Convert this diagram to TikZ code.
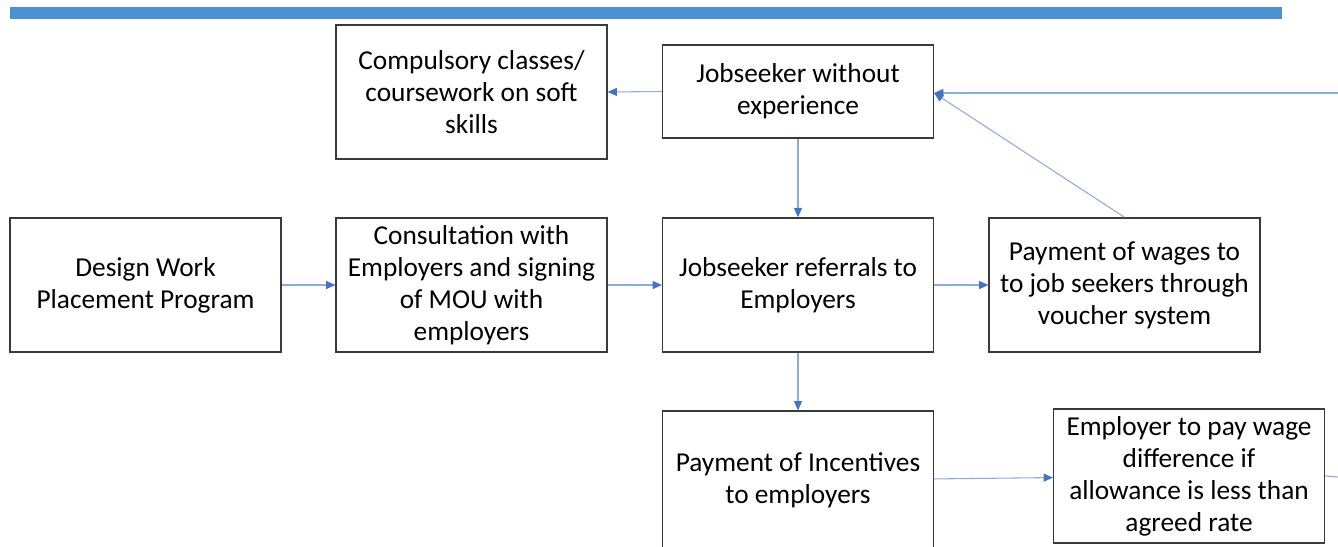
\documentclass[tikz,border=0pt]{standalone}
\usepackage{fontspec}
\setmainfont{Carlito}
\usetikzlibrary{arrows.meta}
\definecolor{barblue}{HTML}{4E91D0}
\definecolor{lineblue}{HTML}{8FAADC}
\definecolor{tipblue}{HTML}{4472C4}
\definecolor{boxgray}{HTML}{3A3A3A}
\tikzset{stage/.style={draw=boxgray, line width=1.1pt, minimum width=203pt, minimum height=100.5pt, align=center, inner sep=2pt, font=\fontsize{20.5}{24}\selectfont}}
\tikzset{flow/.style={draw=lineblue, line width=0.8pt, -{Triangle[length=7pt, width=6pt, color=tipblue]}}}

\begin{document}
\begin{tikzpicture}[x=0.75pt, y=-0.75pt]
\useasboundingbox (0,0) rectangle (1338,546);
\clip (0,0) rectangle (1338,546);
\fill[barblue] (10,7) rectangle (1282,19);
% top row
\node[stage] (soft) at (471.5,92) {Compulsory classes/\\coursework on soft\\skills};
\node[stage, minimum height=70pt] (novice) at (798,91.5) {Jobseeker without\\experience};
% middle row
\node[stage] (design) at (145.5,285) {Design Work\\Placement Program};
\node[stage] (mou) at (471.5,285) {Consultation with\\Employers and signing\\of MOU with\\employers};
\node[stage] (referral) at (798,285) {Jobseeker referrals to\\Employers};
\node[stage] (wages) at (1124.5,285) {Payment of wages to\\to job seekers through\\voucher system};
% bottom row, runs off the page
\node[stage, minimum height=104pt] (incentive) at (798,480.5) {Payment of Incentives\\to employers};
\node[stage] (topup) at (1189,476) {Employer to pay wage\\difference if\\allowance is less than\\agreed rate};
\coordinate (feedin) at (1338,93);
\coordinate (feedout) at (1338,477);
% connectors
\draw[flow] (novice.west) -- (soft.east);
\draw[flow] (novice) -- (referral);
\draw[flow] (design) -- (mou);
\draw[flow] (mou) -- (referral);
\draw[flow] (referral) -- (wages);
\draw[flow] (referral) -- (incentive);
\draw[flow] (incentive) -- (topup);
\draw[flow] (wages.north) -- (novice.east |- feedin);
\draw[flow] (feedin) -- (novice.east |- feedin);
\draw[draw=lineblue, line width=0.8pt] (topup.east) -- (feedout);
\end{tikzpicture}
\end{document}
